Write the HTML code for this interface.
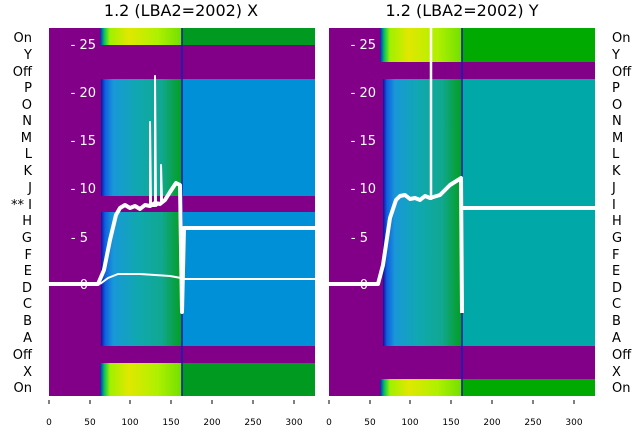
<!DOCTYPE html>
<html><head><style>
body{margin:0;background:#fff;}
svg{display:block;font-family:"DejaVu Sans","Liberation Sans",sans-serif;}
</style></head><body>
<svg width="640" height="440" viewBox="0 0 640 440">
<defs>
<linearGradient id="dl" x1="0" x2="1">
<stop offset="0" stop-color="#1010a0"/><stop offset="0.05" stop-color="#1060e0"/><stop offset="0.15" stop-color="#1898d8"/><stop offset="0.45" stop-color="#10a8b0"/><stop offset="0.75" stop-color="#10a890"/><stop offset="0.92" stop-color="#08a040"/><stop offset="1" stop-color="#00a020"/>
</linearGradient>
<linearGradient id="yl" x1="0" x2="1">
<stop offset="0" stop-color="#1020c0"/><stop offset="0.05" stop-color="#00c060"/><stop offset="0.12" stop-color="#a0f000"/><stop offset="0.35" stop-color="#e0e800"/><stop offset="0.7" stop-color="#b0f000"/><stop offset="1" stop-color="#70e000"/>
</linearGradient>
</defs>
<text x="181" y="16" font-size="16" text-anchor="middle">1.2 (LBA2=2002) X</text>
<text x="462" y="16" font-size="16" text-anchor="middle">1.2 (LBA2=2002) Y</text>
<rect x="49" y="28" width="266" height="368" fill="#820088"/>
<rect x="100" y="28" width="82" height="17" fill="url(#yl)"/>
<rect x="182" y="28" width="133" height="17" fill="#009a20"/>
<rect x="101" y="79" width="81" height="117" fill="url(#dl)"/>
<rect x="101" y="212" width="81" height="134" fill="url(#dl)"/>
<rect x="182" y="79" width="133" height="117" fill="#0090d8"/>
<rect x="182" y="212" width="133" height="134" fill="#0090d8"/>
<rect x="100" y="363" width="82" height="33" fill="url(#yl)"/>
<rect x="182" y="363" width="133" height="33" fill="#009a20"/>
<rect x="181" y="28" width="2" height="368" fill="#1020b0" opacity="0.8"/>
<rect x="329" y="28" width="266" height="368" fill="#820088"/>
<rect x="380" y="28" width="82" height="34" fill="url(#yl)"/>
<rect x="462" y="28" width="133" height="34" fill="#00aa00"/>
<rect x="383" y="79" width="79" height="267" fill="url(#dl)"/>
<rect x="462" y="79" width="133" height="267" fill="#00a8a8"/>
<rect x="380" y="379" width="82" height="17" fill="url(#yl)"/>
<rect x="462" y="379" width="133" height="17" fill="#00aa00"/>
<rect x="461" y="28" width="2" height="368" fill="#1020b0" opacity="0.8"/>
<g fill="#fff" font-size="13" text-anchor="end">
<text x="96" y="49">- 25</text><text x="96" y="97">- 20</text><text x="96" y="145">- 15</text><text x="96" y="193">- 10</text><text x="88" y="242">- 5</text><text x="88" y="289">0</text>
<text x="376" y="49">- 25</text><text x="376" y="97">- 20</text><text x="376" y="145">- 15</text><text x="376" y="193">- 10</text><text x="368" y="242">- 5</text><text x="368" y="289">0</text>
</g>
<g fill="none" stroke="#fff" stroke-linejoin="round">
<polyline stroke-width="4" points="49,284 98,284 104,270 110,240 116,215 120,208 125,205 130,208 135,206 140,209 145,205 150,206 155,203 160,204 165,200 170,192 176,183 180,185 182,312 184,228 315,228"/>
<polyline stroke-width="2" points="100,284 108,278 118,274 140,274 170,276 181,278 183,279 315,279"/>
<polyline stroke-width="2" points="150,206 150,122 151,206 155,206 155,76 156,206 161,202 161,165 162,200"/>
</g>
<g fill="none" stroke="#fff" stroke-linejoin="round">
<polyline stroke-width="4" points="329,284 378,284 383,265 390,218 396,200 400,196 405,195 410,199 415,198 420,200 425,196 430,198 440,195 445,190 450,185 458,180 461,178 462,313"/>
<polyline stroke-width="4" points="463,208 595,208"/>
<polyline stroke-width="2.5" points="431,200 431,28"/>
</g>
<g font-size="13" fill="#000">
<g text-anchor="end">
<text x="32" y="42">On</text><text x="32" y="59">Y</text><text x="32" y="76">Off</text><text x="32" y="92">P</text><text x="32" y="109">O</text><text x="32" y="125">N</text><text x="32" y="142">M</text><text x="32" y="158">L</text><text x="32" y="175">K</text><text x="32" y="192">J</text><text x="32" y="209">** I</text><text x="32" y="225">H</text><text x="32" y="242">G</text><text x="32" y="259">F</text><text x="32" y="275">E</text><text x="32" y="292">D</text><text x="32" y="308">C</text><text x="32" y="325">B</text><text x="32" y="342">A</text><text x="32" y="359">Off</text><text x="32" y="376">X</text><text x="32" y="392">On</text>
</g>
<g>
<text x="612" y="42">On</text><text x="612" y="59">Y</text><text x="612" y="76">Off</text><text x="612" y="92">P</text><text x="612" y="109">O</text><text x="612" y="125">N</text><text x="612" y="142">M</text><text x="612" y="158">L</text><text x="612" y="175">K</text><text x="612" y="192">J</text><text x="612" y="209">I</text><text x="612" y="225">H</text><text x="612" y="242">G</text><text x="612" y="259">F</text><text x="612" y="275">E</text><text x="612" y="292">D</text><text x="612" y="308">C</text><text x="612" y="325">B</text><text x="612" y="342">A</text><text x="612" y="359">Off</text><text x="612" y="376">X</text><text x="612" y="392">On</text>
</g>
</g>
<g stroke="#000" stroke-width="1">
<line x1="49" y1="400" x2="49" y2="404"/><line x1="90" y1="400" x2="90" y2="404"/><line x1="130" y1="400" x2="130" y2="404"/><line x1="171" y1="400" x2="171" y2="404"/><line x1="212" y1="400" x2="212" y2="404"/><line x1="253" y1="400" x2="253" y2="404"/><line x1="294" y1="400" x2="294" y2="404"/>
<line x1="329" y1="400" x2="329" y2="404"/><line x1="370" y1="400" x2="370" y2="404"/><line x1="410" y1="400" x2="410" y2="404"/><line x1="451" y1="400" x2="451" y2="404"/><line x1="492" y1="400" x2="492" y2="404"/><line x1="533" y1="400" x2="533" y2="404"/><line x1="574" y1="400" x2="574" y2="404"/>
</g>
<g font-size="9" text-anchor="middle" fill="#000">
<text x="49" y="425">0</text><text x="90" y="425">50</text><text x="130" y="425">100</text><text x="171" y="425">150</text><text x="212" y="425">200</text><text x="253" y="425">250</text><text x="294" y="425">300</text>
<text x="329" y="425">0</text><text x="370" y="425">50</text><text x="410" y="425">100</text><text x="451" y="425">150</text><text x="492" y="425">200</text><text x="533" y="425">250</text><text x="574" y="425">300</text>
</g>
</svg>
</body></html>
